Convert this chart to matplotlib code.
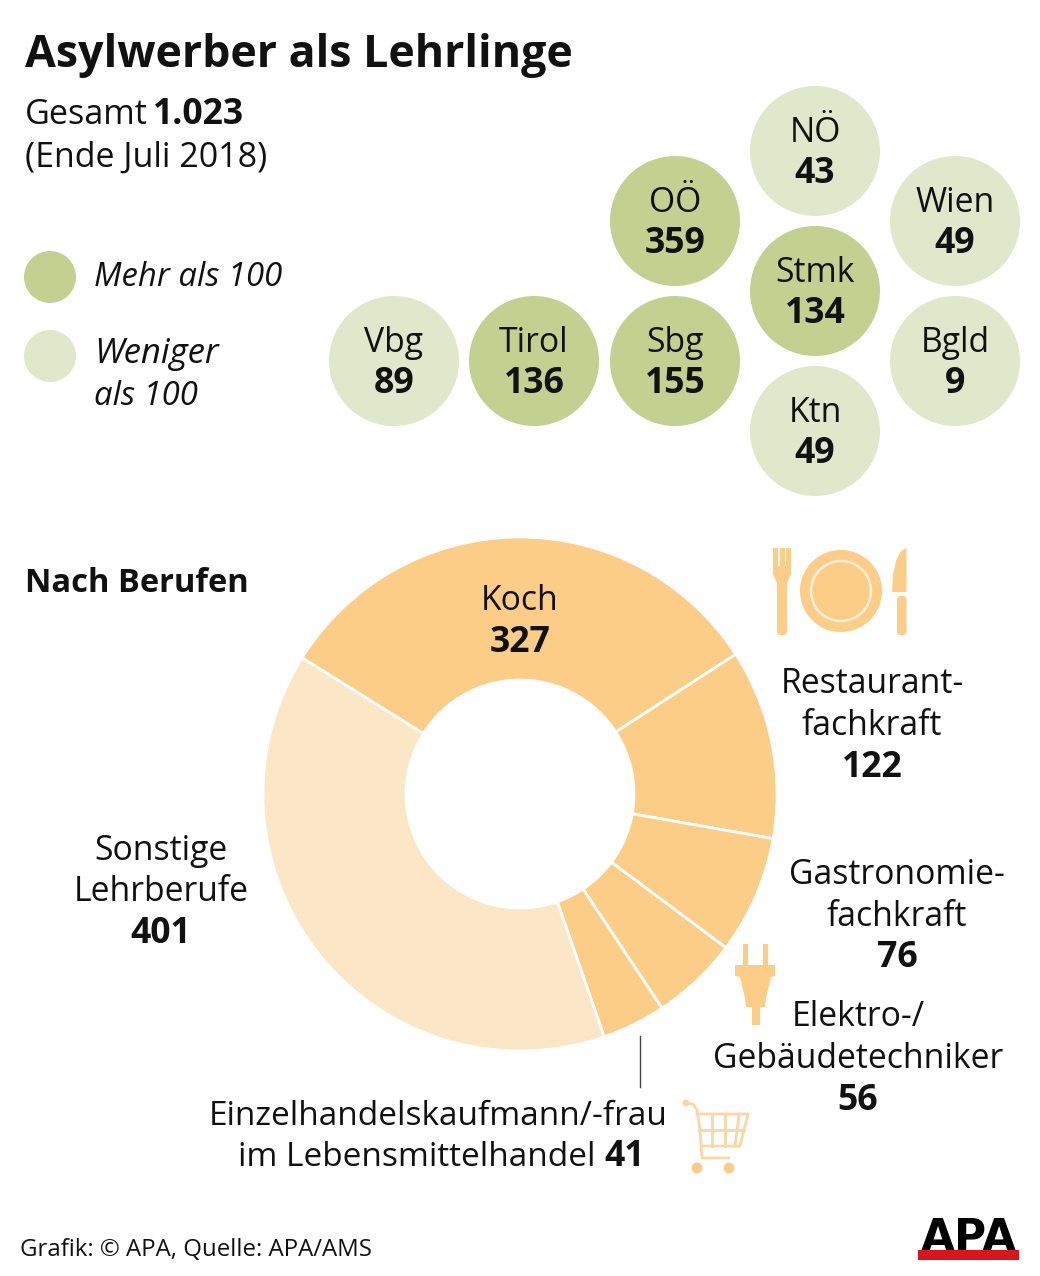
import matplotlib
matplotlib.use('Agg')
import matplotlib.pyplot as plt
from matplotlib.patches import Circle, Rectangle, Polygon, FancyBboxPatch

# bundeslaender
states = ['NÖ', 'Wien', 'OÖ', 'Stmk', 'Vbg', 'Tirol', 'Sbg', 'Bgld', 'Ktn']
state_values = [43, 49, 359, 134, 89, 136, 155, 9, 49]

# berufe, clockwise from the top slice
jobs = ['Koch', 'Restaurantfachkraft', 'Gastronomiefachkraft',
        'Elektro-/Gebäudetechniker', 'Einzelhandel', 'Sonstige']
job_values = [327, 122, 76, 56, 41, 401]

DARK = '#c4d08f'
LIGHT = '#e1e7cb'
ORANGE = '#fbcd87'
PALE = '#fbe6c6'
FONT = 'Open Sans'
FS = 24.3
FS_NUM = 25.7

plt.rcParams['font.family'] = [FONT, 'DejaVu Sans']

W, H = 1040, 1276
fig = plt.figure(figsize=(W / 100, H / 100), dpi=100, facecolor='white')

# donut gets its own axes
r = 257
cx, cy = 520, 794
pie_ax = fig.add_axes([(cx - r) / W, (H - cy - r) / H, 2 * r / W, 2 * r / H])
pie_ax.pie(job_values, startangle=148, counterclock=False, radius=1,
           colors=[ORANGE] * 5 + [PALE],
           wedgeprops=dict(width=1 - 114 / r, edgecolor='white', linewidth=2))
pie_ax.set_xlim(-1, 1)
pie_ax.set_ylim(-1, 1)
pie_ax.axis('off')

# everything else is laid out in pixels, y going down
ax = fig.add_axes([0, 0, 1, 1], zorder=2)
ax.set_xlim(0, W)
ax.set_ylim(H, 0)
ax.axis('off')
ax.patch.set_alpha(0)


def txt(x, y, s, ha='center', weight='normal', style='normal', size=FS, color='#111111', **kw):
    ax.text(x, y, s, ha=ha, va='baseline', fontweight=weight, fontstyle=style,
            fontsize=size, color=color, **kw)


def num(x, y, val, ha='center'):
    txt(x, y, str(val), ha=ha, weight='bold', size=FS_NUM)


# header
txt(25, 67, 'Asylwerber als Lehrlinge', ha='left', weight='bold', size=32.2)
txt(25, 124, 'Gesamt', ha='left', size=24.6)
num(153, 124, '1.023', ha='left')
txt(25, 167, '(Ende Juli 2018)', ha='left', size=24.5)

# legend
ax.add_patch(Circle((50, 277), 26, fc=DARK, ec='none'))
ax.add_patch(Circle((50, 356), 26, fc=LIGHT, ec='none'))
txt(94, 286, 'Mehr als 100', ha='left', style='italic', size=23.7)
txt(94, 363, 'Weniger', ha='left', style='italic', size=25)
txt(94, 405, 'als 100', ha='left', style='italic', size=23.7)

# bubble map
centers = [(815, 151), (955, 221), (675, 221), (815, 291), (394, 361),
           (534, 361), (675, 361), (955, 361), (815, 431)]
for (x, y), name, val in zip(centers, states, state_values):
    ax.add_patch(Circle((x, y), 65, fc=DARK if val > 100 else LIGHT, ec='none'))
    txt(x, y - 9, name)
    num(x, y + 32, val)

# donut labels
txt(25, 592, 'Nach Berufen', ha='left', weight='bold', size=23.5)
txt(520, 610, 'Koch')
num(520, 652, job_values[0])
txt(872, 693, 'Restaurant-')
txt(872, 735, 'fachkraft')
num(872, 777, job_values[1])
txt(897, 884, 'Gastronomie-')
txt(897, 926, 'fachkraft')
num(897, 967, job_values[2])
txt(858, 1026, 'Elektro-/')
txt(858, 1068, 'Gebäudetechniker')
num(858, 1110, job_values[3])
txt(161, 860, 'Sonstige')
txt(161, 901, 'Lehrberufe')
num(161, 943, job_values[5])
txt(668, 1125, 'Einzelhandelskaufmann/-frau', ha='right', size=24)
txt(596, 1166, 'im Lebensmittelhandel', ha='right', size=24)
num(604, 1166, job_values[4], ha='left')
ax.plot([640, 640], [1036, 1087], color='#444444', lw=1)


def rrect(x0, y0, x1, y1, rad=3, color=ORANGE):
    ax.add_patch(FancyBboxPatch((x0 + rad, y0 + rad), x1 - x0 - 2 * rad, y1 - y0 - 2 * rad,
                                boxstyle='round,pad=%d' % rad, fc=color, ec='none'))


# fork
for x0 in (773, 779.5, 786):
    ax.add_patch(Rectangle((x0, 548), 5, 24, fc=ORANGE, ec='none'))
ax.add_patch(Polygon([(773, 566), (791, 566), (791, 574), (787, 583), (777, 583), (773, 574)],
                     fc=ORANGE, ec='none'))
rrect(777, 578, 787, 635, rad=4)
# plate
ax.add_patch(Circle((841, 591), 41, fc=ORANGE, ec='none'))
ax.add_patch(Circle((841, 591), 30, fc='none', ec='#fdf0d8', lw=1.8))
# knife
ax.add_patch(Polygon([(906.5, 548), (901, 551), (896, 561), (893, 575), (892, 592), (906.5, 592)],
                     fc=ORANGE, ec='none'))
rrect(897, 596, 906.5, 635, rad=4)

# plug
ax.add_patch(Rectangle((743, 944), 5, 24, fc=ORANGE, ec='none'))
ax.add_patch(Rectangle((763, 944), 5, 24, fc=ORANGE, ec='none'))
ax.add_patch(Polygon([(735, 965), (775, 965), (775, 976), (771, 977), (766, 998),
                      (765, 1007), (760, 1007), (760, 1025), (752, 1025), (752, 1007),
                      (746, 1007), (745, 998), (740, 977), (735, 976)],
                     fc=ORANGE, ec='none'))

# cart
CART = '#f9d8a6'
cart_lw = 2
ax.plot([686, 693, 697, 700, 702, 729], [1103, 1104, 1110, 1130, 1158, 1158],
        color=CART, lw=cart_lw)
ax.add_patch(Circle((686, 1103), 3.5, fc=CART, ec='none'))
ax.plot([697, 748, 740, 701], [1114, 1114, 1146, 1146], color=CART, lw=cart_lw)
ax.plot([699, 744], [1130, 1130], color=CART, lw=cart_lw)
ax.plot([712, 712], [1114, 1146], color=CART, lw=cart_lw)
ax.plot([725, 725], [1114, 1146], color=CART, lw=cart_lw)
ax.plot([739, 735], [1114, 1146], color=CART, lw=cart_lw)
ax.add_patch(Circle((697, 1168), 5.5, fc=ORANGE, ec='none'))
ax.add_patch(Circle((729, 1168), 5.5, fc=ORANGE, ec='none'))

# footer
txt(20, 1256, 'Grafik: © APA, Quelle: APA/AMS', ha='left', size=17.3)

# logo
ax.text(968.5, 1251, 'APA', ha='center', va='baseline', fontsize=31.6, fontweight='bold',
        family='DejaVu Sans', color='black')
ax.add_patch(Rectangle((918, 1250), 101, 10, fc='#d8141c', ec='none', zorder=3))

fig.savefig('out.png', dpi=100, facecolor='white')
